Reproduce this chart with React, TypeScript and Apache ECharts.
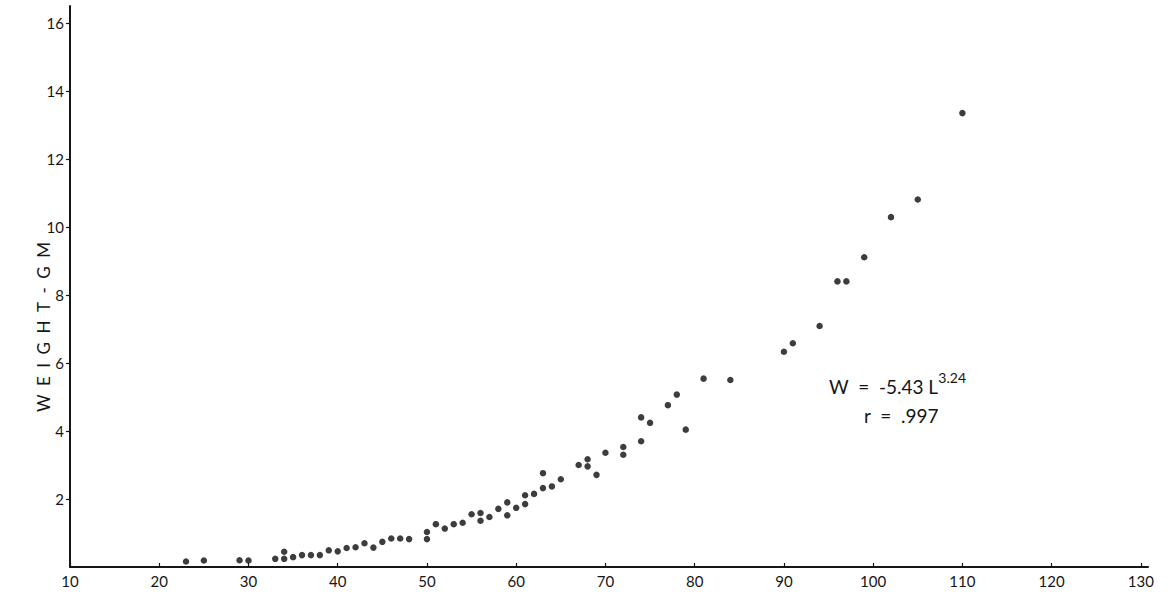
import React, { useEffect, useRef } from "react";
import * as echarts from "echarts";

// Length (mm) and weight (gm) of each specimen
const lengthMm = [
  23, 25, 29, 30, 33, 34, 34, 35, 36, 37, 38, 39, 40, 41, 42, 43, 44, 45, 46, 47, 48,
  50, 50, 51, 52, 53, 54, 55, 56, 56, 57, 58, 59, 59, 60, 61, 61, 62, 63, 63, 64, 65,
  67, 68, 68, 69, 70, 72, 72, 74, 74, 75, 77, 78, 79, 81, 84, 90, 91, 94, 96, 97, 99,
  102, 105, 110,
];
const weightGm = [
  0.16, 0.19, 0.2, 0.19, 0.24, 0.24, 0.45, 0.29, 0.35, 0.35, 0.35, 0.49, 0.46, 0.56, 0.58,
  0.7, 0.57, 0.74, 0.84, 0.84, 0.82, 0.82, 1.03, 1.26, 1.13, 1.26, 1.3, 1.55, 1.59, 1.36,
  1.47, 1.71, 1.9, 1.52, 1.74, 1.85, 2.11, 2.15, 2.32, 2.76, 2.37, 2.58, 3.0, 3.17, 2.96,
  2.71, 3.36, 3.53, 3.3, 3.7, 4.4, 4.24, 4.76, 5.07, 4.04, 5.54, 5.5, 6.33, 6.58, 7.09,
  8.4, 8.4, 9.11, 10.29, 10.81, 13.35,
];

const xTicks = [10, 20, 30, 40, 50, 60, 70, 80, 90, 100, 110, 120, 130];
const yTicks = [2, 4, 6, 8, 10, 12, 14, 16];

const yAxisTitle = "WEIGHT - GM";
const equationMain = "W  =  -5.43 L";
const equationExp = "3.24";
const rText = "r  =  .997";

const FONT = "Lato, 'Open Sans', sans-serif";
const INK = "#161616";

export default function App() {
  const ref = useRef<HTMLDivElement>(null);

  useEffect(() => {
    if (!ref.current) return;
    const chart = echarts.init(ref.current, undefined, { renderer: "svg" });
    const points = lengthMm.map((l, i) => [l, weightGm[i]]);
    const spacedTitle = yAxisTitle
      .replace(/ /g, "")
      .split("")
      .join("\u2002");

    chart.setOption({
      animation: false,
      backgroundColor: "#ffffff",
      grid: { left: 70, right: 23, top: 6, bottom: 27, containLabel: false },
      xAxis: {
        type: "value",
        min: 10,
        max: 130.8,
        interval: 10,
        splitLine: { show: false },
        axisLine: { show: true, onZero: false, lineStyle: { color: INK, width: 2 } },
        axisTick: {
          show: true,
          inside: true,
          length: 4,
          customValues: xTicks,
          lineStyle: { color: INK, width: 1.2 },
        },
        axisLabel: {
          customValues: xTicks,
          margin: 6,
          color: INK,
          fontFamily: FONT,
          fontSize: 15,
        },
      },
      yAxis: {
        type: "value",
        min: 0,
        max: 16.5,
        interval: 2,
        splitLine: { show: false },
        axisLine: { show: true, onZero: false, lineStyle: { color: INK, width: 2 } },
        axisTick: {
          show: true,
          inside: false,
          length: 4,
          customValues: yTicks,
          lineStyle: { color: INK, width: 1.2 },
        },
        axisLabel: {
          customValues: yTicks,
          margin: 6,
          color: INK,
          fontFamily: FONT,
          fontSize: 15,
        },
      },
      series: [
        {
          type: "scatter",
          data: points,
          symbol: "circle",
          symbolSize: 6.5,
          itemStyle: { color: "#0c0c0c" },
        },
      ],
      graphic: [
        {
          type: "text",
          x: 43,
          y: 327,
          rotation: Math.PI / 2,
          style: {
            text: spacedTitle,
            fill: INK,
            font: `17px ${FONT}`,
            align: "center",
            verticalAlign: "middle",
          },
        },
        {
          type: "text",
          x: 829,
          y: 370,
          style: {
            text: `{a|${equationMain}}{s|${equationExp}}`,
            fill: INK,
            rich: {
              a: {
                fontFamily: FONT,
                fontSize: 19,
                lineHeight: 26,
                verticalAlign: "bottom",
                fill: INK,
              },
              s: {
                fontFamily: FONT,
                fontSize: 14,
                lineHeight: 15,
                verticalAlign: "top",
                fill: INK,
              },
            },
          },
        },
        {
          type: "text",
          x: 864,
          y: 415,
          style: {
            text: rText,
            fill: INK,
            font: `19px ${FONT}`,
            align: "left",
            verticalAlign: "middle",
          },
        },
      ],
    });

    return () => chart.dispose();
  }, []);

  return (
    <div
      ref={ref}
      style={{ position: "fixed", left: 0, top: 0, width: 1171, height: 594, background: "#fff" }}
    />
  );
}
